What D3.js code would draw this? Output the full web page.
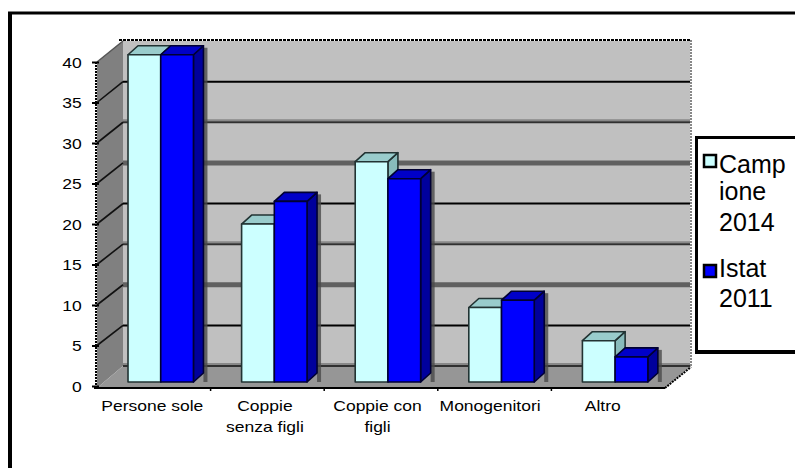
<!DOCTYPE html>
<html>
<head>
<meta charset="utf-8">
<script src="https://cdn.jsdelivr.net/npm/d3@7/dist/d3.min.js"></script>
<style>
  html, body { margin: 0; padding: 0; background: #ffffff; }
  svg { display: block; }
  text { font-family: "Liberation Sans", Arial, sans-serif; fill: #000; }
</style>
</head>
<body>
<svg id="chart" width="795" height="468"></svg>
<script>
// Household types: sample 2014 vs Istat 2011 (percent)
const categories = ["Persone sole", "Coppie senza figli", "Coppie con figli", "Monogenitori", "Altro"];
const categoryLines = [["Persone sole"], ["Coppie", "senza figli"], ["Coppie con", "figli"], ["Monogenitori"], ["Altro"]];
const seriesNames = ["Campione 2014", "Istat 2011"];
const legendLines = [["Camp", "ione", "2014"], ["Istat", "2011"]];
const campione2014 = [40.4, 19.5, 27.2, 9.2, 5.1];
const istat2011 = [40.4, 22.3, 25.1, 10.1, 3.1];
const yTicks = [0, 5, 10, 15, 20, 25, 30, 35, 40];

const series = [campione2014, istat2011];
const colors = [
  { front: "#ccffff", top: "#99cccc", side: "#88bbbb", stroke: "#223333" },
  { front: "#0000ff", top: "#0000c8", side: "#00009c", stroke: "#000033" }
];

const svg = d3.select("#chart");

// 3D frame geometry: front plane, back wall plane and bar plane
const yFront = d3.scaleLinear([0, 40], [386, 62]);
const yBack = d3.scaleLinear([0, 40], [366, 41]);
const yBar = d3.scaleLinear([0, 40], [382, 58]);
const xFloor = d3.scaleBand(categories, [97, 665]);
const xLabel = d3.scaleBand(categories, [96, 659]);
const xBar = d3.scaleBand(categories, [102, 670]).paddingInner(0.424).paddingOuter(0.212).align(0.54);
const xSeries = d3.scaleBand(d3.range(series.length), [0, xBar.bandwidth()]);
const barDepth = { dx: 10, dy: -9 };
const wallLeft = 123, wallRight = 690, floorFront = 388;

// outer frame
svg.append("line").attr("x1", 10).attr("x2", 10).attr("y1", 12).attr("y2", 470)
  .attr("stroke", "#000").attr("stroke-width", 4);
svg.append("line").attr("x1", 8).attr("x2", 800).attr("y1", 13).attr("y2", 13)
  .attr("stroke", "#000").attr("stroke-width", 3);

const plot = svg.append("g");

// back wall
plot.append("rect").attr("x", wallLeft).attr("y", yBack(40))
  .attr("width", wallRight - wallLeft).attr("height", yBack(0) - yBack(40))
  .attr("fill", "#c0c0c0");

// side wall
plot.append("polygon")
  .attr("points", [[97, yFront(40)], [wallLeft, yBack(40)], [wallLeft, yBack(0)], [97, floorFront]].join(" "))
  .attr("fill", "#808080");

// floor
plot.append("polygon")
  .attr("points", [[97, floorFront], [xFloor.range()[1], floorFront], [wallRight, yBack(0) + 1], [wallLeft, yBack(0)]].join(" "))
  .attr("fill", "#969696");

// back wall gridlines
const gridStyle = [
  { color: "#606060", width: 5 },
  { color: "#000000", width: 2 },
  { color: "#303030", width: 2 }
];
yTicks.filter(v => v < 40).forEach(v => {
  const s = gridStyle[((40 - v) / 5) % 3];
  if (s.width === 2 && s.color === "#303030") {
    plot.append("line").attr("x1", wallLeft).attr("x2", wallRight)
      .attr("y1", yBack(v) - 2).attr("y2", yBack(v) - 2)
      .attr("stroke", "#888").attr("stroke-width", 2);
  }
  plot.append("line").attr("x1", wallLeft).attr("x2", wallRight)
    .attr("y1", yBack(v)).attr("y2", yBack(v))
    .attr("stroke", s.color).attr("stroke-width", s.width);
});

// diagonal gridlines on the side wall
yTicks.filter(v => v > 0 && v < 40).forEach(v => {
  plot.append("line")
    .attr("x1", 97).attr("y1", yFront(v)).attr("x2", wallLeft).attr("y2", yBack(v))
    .attr("stroke", "#111").attr("stroke-width", 1.6);
});

// wall edges
plot.append("line").attr("x1", wallLeft - 4).attr("x2", wallRight + 1).attr("y1", 40).attr("y2", 40)
  .attr("stroke", "#000").attr("stroke-width", 2).attr("stroke-dasharray", "3,1");
plot.append("line").attr("x1", wallRight + 1).attr("x2", wallRight + 1).attr("y1", 40).attr("y2", yBack(0) + 1)
  .attr("stroke", "#888").attr("stroke-width", 2).attr("stroke-dasharray", "2,1");
plot.append("line").attr("x1", xFloor.range()[1]).attr("y1", floorFront).attr("x2", wallRight + 1).attr("y2", yBack(0) + 1)
  .attr("stroke", "#000").attr("stroke-width", 2).attr("stroke-dasharray", "2,1");
plot.append("line").attr("x1", 97).attr("x2", wallLeft).attr("y1", yFront(40)).attr("y2", yBack(40))
  .attr("stroke", "#555").attr("stroke-width", 1.5);

// bars
const bars = plot.append("g");
categories.forEach((cat, i) => {
  const gx = xBar(cat);
  // cast shadow of the rightmost bar on the back wall
  const groupRight = gx + xBar.bandwidth() + barDepth.dx;
  const lastValue = series[series.length - 1][i];
  bars.append("rect").attr("x", groupRight).attr("y", yBar(lastValue) + barDepth.dy + 2)
    .attr("width", 4).attr("height", yBar(0) - yBar(lastValue) - barDepth.dy - 2)
    .attr("fill", "#4a4a4a").attr("opacity", 0.8);
  series.forEach((s, j) => {
    const c = colors[j];
    const x0 = gx + xSeries(j), x1 = x0 + xSeries.bandwidth();
    const yt = yBar(s[i]), yb = yBar(0);
    const g = bars.append("g").attr("stroke", c.stroke).attr("stroke-width", 1.6).attr("stroke-linejoin", "round");
    g.append("polygon")
      .attr("points", [[x1, yt], [x1 + barDepth.dx, yt + barDepth.dy], [x1 + barDepth.dx, yb + barDepth.dy], [x1, yb]].join(" "))
      .attr("fill", c.side);
    g.append("polygon")
      .attr("points", [[x0, yt], [x0 + barDepth.dx, yt + barDepth.dy], [x1 + barDepth.dx, yt + barDepth.dy], [x1, yt]].join(" "))
      .attr("fill", c.top);
    g.append("rect").attr("x", x0).attr("y", yt).attr("width", x1 - x0).attr("height", yb - yt)
      .attr("fill", c.front);
  });
});

// floor front edge and category separators
plot.append("line").attr("x1", 94).attr("x2", xFloor.range()[1]).attr("y1", floorFront).attr("y2", floorFront)
  .attr("stroke", "#000").attr("stroke-width", 2);
categories.slice(1).forEach(cat => {
  plot.append("line").attr("x1", xFloor(cat)).attr("x2", xFloor(cat))
    .attr("y1", floorFront).attr("y2", floorFront + 3)
    .attr("stroke", "#000").attr("stroke-width", 1.5);
});

// value axis
const yAxis = svg.append("g").attr("transform", "translate(96,0)")
  .call(d3.axisLeft(yFront).tickValues(yTicks).tickFormat(d3.format("d")).tickSize(4).tickPadding(0));
yAxis.select(".domain").attr("stroke", "#000").attr("stroke-width", 2).attr("stroke-dasharray", "2,1")
  .attr("d", `M0,${yFront(40)}V${floorFront}`);
yAxis.selectAll(".tick line").attr("x1", 3).attr("x2", -4).attr("stroke", "#000").attr("stroke-width", 2);
yAxis.selectAll(".tick text")
  .attr("x", -11.4).attr("dy", "0.36em")
  .attr("transform", "scale(1.25,1)")
  .style("font-size", "14px").attr("fill", "#000")
  .style("font-family", '"Liberation Sans", Arial, sans-serif');

// category labels
const labels = svg.append("g");
categories.forEach((cat, i) => {
  const t = labels.append("text")
    .attr("transform", `translate(${xLabel(cat) + xLabel.bandwidth() / 2},0) scale(1.25,1)`)
    .attr("text-anchor", "middle").style("font-size", "14px");
  categoryLines[i].forEach((line, k) => {
    t.append("tspan").attr("x", 0).attr("y", 411 + k * 21).text(line);
  });
});

// legend
const legend = svg.append("g");
legend.append("rect").attr("x", 696.5).attr("y", 137.5).attr("width", 130).attr("height", 214)
  .attr("fill", "#fff").attr("stroke", "#000").attr("stroke-width", 3);
legend.append("line").attr("x1", 695).attr("x2", 800).attr("y1", 352).attr("y2", 352)
  .attr("stroke", "#000").attr("stroke-width", 4);
const swatchY = [155, 265];
const lineBaselines = [[173, 200, 231], [277, 307]];
seriesNames.forEach((name, j) => {
  legend.append("rect").attr("x", 704).attr("y", swatchY[j]).attr("width", 12).attr("height", 12)
    .attr("fill", colors[j].front).attr("stroke", "#000").attr("stroke-width", 2.5);
  const t = legend.append("text").style("font-size", "25px");
  legendLines[j].forEach((line, k) => {
    t.append("tspan").attr("x", 719).attr("y", lineBaselines[j][k]).text(line);
  });
});
</script>
</body>
</html>
